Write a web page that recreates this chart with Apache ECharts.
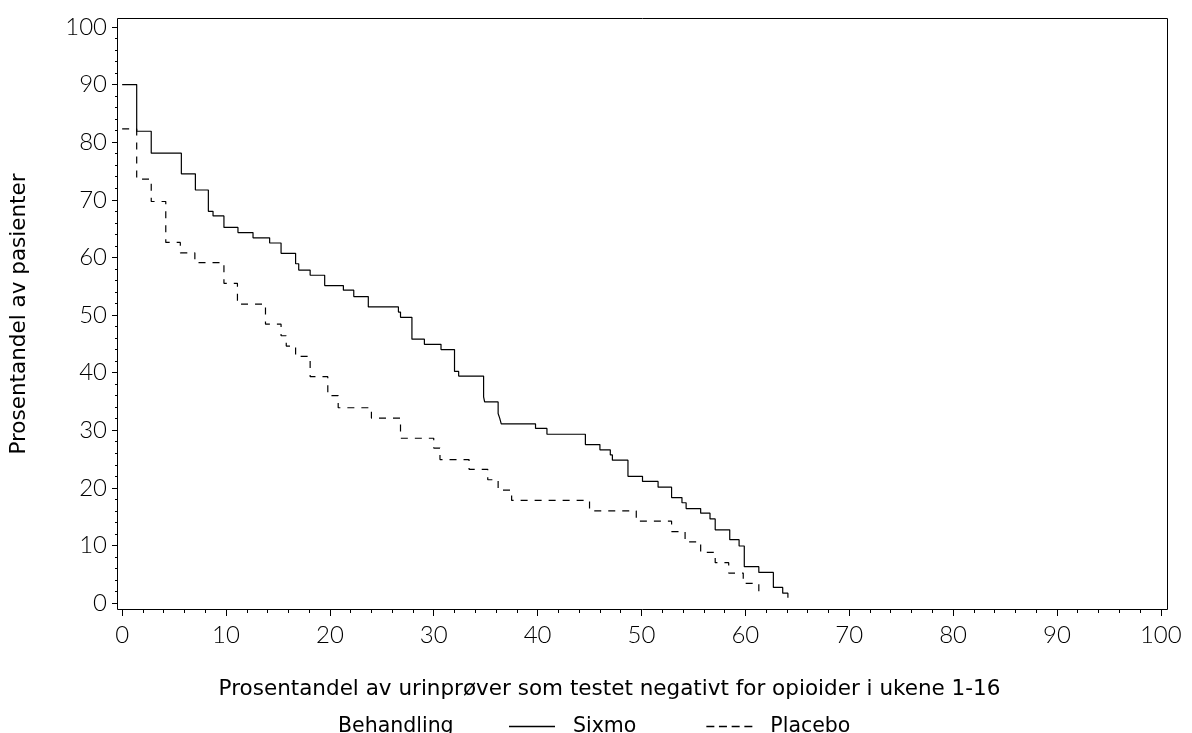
<!DOCTYPE html>
<html>
<head>
<meta charset="utf-8">
<script src="https://cdn.jsdelivr.net/npm/echarts@6/dist/echarts.min.js"></script>
<style>
  html, body { margin: 0; padding: 0; background: #fff; }
  #chart { width: 1192px; height: 733px; }
</style>
</head>
<body>
<div id="chart"></div>
<script>
// Step change points (x where the level starts, level value)
const sixmoX = [0, 1.4, 2.8, 5.7, 7.05, 8.3, 8.75, 9.8, 11.15, 12.6, 14.2, 15.3, 16.7, 17.0, 18.1, 19.5, 21.3, 22.3, 23.7, 26.6, 26.8, 27.9, 29.1, 30.7, 32.0, 32.4, 34.8, 34.9, 36.2, 36.35, 36.5, 39.8, 40.9, 44.6, 46.0, 47.0, 47.2, 48.7, 50.1, 51.6, 52.9, 53.9, 54.3, 55.7, 56.6, 57.1, 58.5, 59.4, 59.9, 61.3, 62.7, 63.6, 64.1];
const sixmoY = [90, 81.9, 78.1, 74.5, 71.7, 68.0, 67.2, 65.2, 64.3, 63.4, 62.5, 60.7, 58.9, 57.8, 56.9, 55.1, 54.3, 53.2, 51.4, 50.5, 49.6, 45.8, 44.9, 44.0, 40.2, 39.4, 35.8, 34.9, 32.9, 32.1, 31.1, 30.3, 29.3, 27.5, 26.6, 25.7, 24.8, 22.0, 21.1, 20.1, 18.3, 17.4, 16.4, 15.6, 14.6, 12.7, 11.0, 9.9, 6.3, 5.3, 2.7, 1.7, 0.9];
const placeboX = [0, 1.4, 2.8, 4.2, 5.6, 7.0, 9.8, 11.1, 13.8, 15.3, 15.8, 16.7, 18.1, 19.8, 20.8, 24.0, 26.8, 30.0, 30.6, 33.4, 35.2, 36.2, 37.5, 45.0, 49.5, 52.9, 54.2, 55.7, 57.1, 58.4, 59.8, 61.3];
const placeboY = [82.3, 73.6, 69.7, 62.6, 60.8, 59.1, 55.5, 51.9, 48.4, 46.4, 44.6, 42.8, 39.3, 36.0, 33.9, 32.1, 28.6, 26.9, 24.9, 23.2, 21.4, 19.6, 17.8, 16.0, 14.2, 12.4, 10.6, 8.8, 7.0, 5.2, 3.4, 1.8];
const seriesNames = ['Sixmo', 'Placebo'];
const legendTitle = 'Behandling';
const xTitle = 'Prosentandel av urinprøver som testet negativt for opioider i ukene 1-16';
const yTitle = 'Prosentandel av pasienter';
const majorTicks = [0, 10, 20, 30, 40, 50, 60, 70, 80, 90, 100];
const minorTicks = [2, 4, 6, 8, 12, 14, 16, 18, 22, 24, 26, 28, 32, 34, 36, 38, 42, 44, 46, 48, 52, 54, 56, 58, 62, 64, 66, 68, 72, 74, 76, 78, 82, 84, 86, 88, 92, 94, 96, 98];

const FONT = 'DejaVu Sans';
const TICKFONT = 'Lato';
const chart = echarts.init(document.getElementById('chart'), null, { renderer: 'canvas' });

function makeAxis(pos, min, max, isMajor, extra) {
  return Object.assign({
    type: 'value', position: pos, min: min, max: max,
    axisLine: { show: false, onZero: false },
    splitLine: { show: false },
    axisTick: {
      show: true, inside: false, length: isMajor ? 6 : 3,
      customValues: isMajor ? majorTicks : minorTicks,
      lineStyle: { color: '#000', width: 1 }
    },
    axisLabel: isMajor ? {
      show: true, customValues: majorTicks, margin: 13,
      fontFamily: TICKFONT, fontWeight: 300, fontSize: 24, color: '#000'
    } : { show: false }
  }, extra || {});
}

chart.setOption({
  animation: false,
  backgroundColor: '#fff',
  grid: { left: 117, right: 25, top: 18, bottom: 123, containLabel: false },
  xAxis: [
    makeAxis('bottom', -0.4, 100.6, true, {
      name: xTitle, nameLocation: 'middle', nameGap: 68, nameMoveOverlap: false,
      nameTextStyle: { fontFamily: FONT, fontSize: 21.5, color: '#000', padding: [0, 66, 0, 0] }
    }),
    makeAxis('bottom', -0.4, 100.6, false)
  ],
  yAxis: [
    makeAxis('left', -1.215, 101.56, true, {
      name: yTitle, nameLocation: 'middle', nameGap: 88, nameMoveOverlap: false,
      nameTextStyle: { fontFamily: FONT, fontSize: 21.5, color: '#000' },
      axisLabel: { show: true, customValues: majorTicks, margin: 11, fontFamily: TICKFONT, fontWeight: 300, fontSize: 24, color: '#000' }
    }),
    makeAxis('left', -1.215, 101.56, false)
  ],
  title: {
    text: legendTitle, left: 333, top: 711,
    textStyle: { fontFamily: FONT, fontSize: 20.5, fontWeight: 'normal', color: '#000' }
  },
  legend: {
    left: 504, top: 711,
    itemWidth: 46, itemHeight: 1.3, itemGap: 70,
    data: [
      { name: seriesNames[0], icon: 'rect' },
      { name: seriesNames[1], icon: 'path://M0,0h80v13h-80z M126,0h80v13h-80z M253,0h80v13h-80z M380,0h80v13h-80z' }
    ],
    textStyle: { fontFamily: FONT, fontSize: 20.5, color: '#000', padding: [0, 0, 0, 13] }
  },
  graphic: [{
    type: 'rect', silent: true, z: 100,
    shape: { x: 117.5, y: 18.5, width: 1050, height: 591 },
    style: { fill: null, stroke: '#000', lineWidth: 1 }
  }],
  series: [
    {
      name: seriesNames[0], type: 'line', step: 'end', symbol: 'none',
      xAxisIndex: 0, yAxisIndex: 0,
      data: sixmoX.map((x, i) => [x, sixmoY[i]]),
      lineStyle: { color: '#000', width: 1.2, type: 'solid' },
      itemStyle: { color: '#000' }
    },
    {
      name: seriesNames[1], type: 'line', step: 'end', symbol: 'none',
      xAxisIndex: 0, yAxisIndex: 0,
      data: placeboX.map((x, i) => [x, placeboY[i]]),
      lineStyle: { color: '#000', width: 1.2, type: [7, 7] },
      itemStyle: { color: '#000' }
    }
  ]
});
</script>
</body>
</html>
